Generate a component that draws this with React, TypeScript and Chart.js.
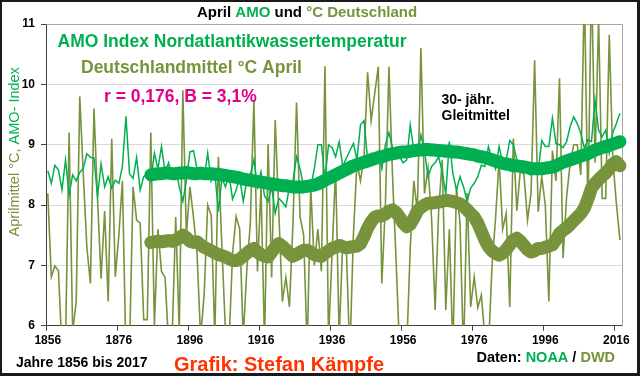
import { useEffect, useRef } from 'react';
import { Chart, registerables } from 'chart.js';

Chart.register(...registerables);

const FIRST_YEAR = 1856;
const years: string[] = Array.from({ length: 162 }, (_, i) => String(FIRST_YEAR + i));
const yTicks = [6, 7, 8, 9, 10, 11];
const xLabelStep = 20;
const maStartIndex = 29; // first 30-year mean at 1885

// AMO index (scaled to °C), April, 1856-2017
const amoRaw = [
  8.57, 8.36, 8.66, 8.58, 8.25, 8.75, 8.17, 8.5, 8.4, 8.54,
  8.61, 8.85, 8.79, 8.78, 8.14, 8.68, 8.3, 8.47, 8.28, 8.41,
  8.36, 8.64, 9.47, 8.52, 8.44, 8.79, 8.25, 8.47, 8.52, 8.4,
  8.86, 8.6, 8.97, 8.55, 8.7, 8.45, 8.6, 8.3, 8.06, 8.4,
  8.88, 8.9, 8.6, 8.5, 8.45, 8.86, 8.4, 8.55, 7.89, 8.45,
  8.3, 8.5, 8.1, 8.25, 8.45, 8.06, 8.4, 8.5, 8.75, 8.3,
  8.55, 8.15, 8.06, 8.3, 7.86, 8.11, 8.05, 7.97, 8.3, 8.4,
  8.8, 8.6, 8.3, 8.25, 8.3, 8.6, 9.0, 9.0, 8.42, 9.0,
  8.95, 8.8, 9.05, 8.64, 8.77, 8.9, 9.02, 8.75, 9.33, 9.4,
  8.75, 8.85, 8.7, 8.88, 8.6, 9.0, 9.2, 8.95, 8.88, 8.8,
  8.7, 8.75, 9.33, 8.9, 8.85, 9.16, 8.9, 8.47, 8.64, 8.7,
  8.8, 8.55, 8.19, 9.05, 8.52, 8.25, 8.47, 8.3, 8.06, 8.28,
  8.36, 8.47, 8.66, 8.64, 8.97, 8.75, 8.6, 8.97, 8.7, 8.75,
  9.07, 9.0, 8.75, 8.6, 8.7, 8.55, 8.5, 8.6, 8.55, 9.07,
  8.97, 8.97, 9.44, 9.02, 9.0, 8.95, 9.05, 9.3, 9.46, 9.35,
  9.19, 8.94, 9.08, 9.05, 9.74, 9.24, 9.13, 9.24, 8.86, 9.2,
  9.35, 9.52,
];

// Germany April mean temperature (°C), 1856-2017
const deRaw = [
  8.19, 6.81, 6.99, 6.91, 5.6, 5.7, 9.2, 5.9, 6.4, 9.8,
  8.5, 7.3, 6.7, 9.6, 8.1, 6.78, 7.9, 6.4, 9.1, 6.81,
  7.5, 8.4, 5.5, 5.6, 8.3, 7.75, 7.7, 6.1, 6.1, 9.2,
  6.0, 7.6, 6.9, 6.8, 5.7, 5.8, 7.8, 5.9, 9.9, 7.5,
  8.3, 7.8, 7.2, 5.8, 6.51, 8.0, 7.83, 5.8, 8.8, 7.3,
  5.9, 5.7, 7.2, 7.81, 7.6, 5.8, 6.92, 7.7, 9.74, 6.9,
  8.3, 5.7, 9.01, 6.8, 9.41, 7.9, 6.4, 6.8, 6.31, 7.7,
  9.7, 7.8, 7.5, 5.6, 8.3, 7.0, 7.6, 6.9, 10.3, 5.8,
  7.2, 8.6, 5.8, 7.4, 7.3, 5.5, 7.5, 8.7, 8.4, 8.8,
  10.2, 9.4, 9.85, 10.29, 6.7, 8.0, 10.29, 8.5, 7.1, 5.6,
  5.7, 5.6, 7.3, 8.4, 7.9, 10.6, 8.19, 8.61, 7.78, 6.26,
  7.92, 8.75, 6.26, 7.6, 5.6, 8.3, 7.7, 5.5, 8.2, 6.31,
  6.81, 6.3, 6.51, 5.8, 5.6, 6.98, 7.78, 8.75, 7.6, 7.86,
  6.31, 9.1, 7.9, 8.6, 8.5, 7.75, 8.2, 10.4, 7.89, 8.47,
  8.0, 6.4, 8.9, 8.4, 10.1, 7.12, 8.14, 8.69, 9.0, 9.0,
  8.5, 11.6, 7.9, 11.8, 8.7, 11.1, 8.11, 8.11, 10.82, 8.75,
  8.03, 7.42,
];

// 30-year moving averages, 1885-2017
const amoMA = [
  8.5, 8.51, 8.52, 8.52, 8.53, 8.53, 8.52, 8.52, 8.53, 8.53, 8.54, 8.53, 8.52, 8.52, 8.53, 8.52, 8.52, 8.52, 8.51, 8.51,
  8.5, 8.49, 8.48, 8.47, 8.46, 8.45, 8.43, 8.42, 8.41, 8.4, 8.39, 8.38, 8.37, 8.36, 8.35, 8.34, 8.33, 8.32, 8.32, 8.31,
  8.3, 8.3, 8.3, 8.3, 8.31, 8.32, 8.33, 8.35, 8.38, 8.41, 8.44, 8.47, 8.5, 8.53, 8.56, 8.59, 8.62, 8.65, 8.67, 8.69,
  8.71, 8.73, 8.75, 8.77, 8.79, 8.8, 8.82, 8.84, 8.85, 8.86, 8.87, 8.88, 8.88, 8.89, 8.9, 8.91, 8.91, 8.92, 8.92, 8.91,
  8.91, 8.9, 8.9, 8.89, 8.89, 8.88, 8.88, 8.87, 8.86, 8.85, 8.84, 8.83, 8.81, 8.8, 8.79, 8.77, 8.75, 8.73, 8.71, 8.69,
  8.68, 8.67, 8.65, 8.65, 8.64, 8.63, 8.62, 8.6, 8.6, 8.6, 8.6, 8.61, 8.62, 8.63, 8.65, 8.68, 8.71, 8.73, 8.75, 8.77,
  8.79, 8.81, 8.83, 8.85, 8.88, 8.91, 8.93, 8.95, 8.97, 8.99, 9.01, 9.03, 9.05,
];

const deMA = [
  7.38, 7.39, 7.4, 7.39, 7.4, 7.41, 7.4, 7.42, 7.45, 7.5, 7.46, 7.4, 7.38, 7.39, 7.34, 7.3, 7.27, 7.24, 7.21, 7.18,
  7.16, 7.14, 7.11, 7.08, 7.08, 7.1, 7.15, 7.2, 7.25, 7.28, 7.22, 7.18, 7.15, 7.14, 7.22, 7.3, 7.36, 7.32, 7.26, 7.2,
  7.15, 7.18, 7.22, 7.25, 7.25, 7.22, 7.18, 7.16, 7.15, 7.2, 7.24, 7.28, 7.3, 7.33, 7.31, 7.29, 7.3, 7.31, 7.32, 7.36,
  7.48, 7.62, 7.72, 7.8, 7.82, 7.82, 7.85, 7.9, 7.92, 7.88, 7.8, 7.7, 7.64, 7.68, 7.78, 7.9, 7.96, 8.0, 8.03, 8.03,
  8.04, 8.05, 8.06, 8.08, 8.07, 8.06, 8.04, 8.02, 7.98, 7.92, 7.86, 7.8, 7.7, 7.56, 7.42, 7.31, 7.24, 7.2, 7.17, 7.2,
  7.26, 7.34, 7.42, 7.45, 7.4, 7.33, 7.26, 7.22, 7.24, 7.28, 7.28, 7.3, 7.32, 7.34, 7.42, 7.53, 7.58, 7.62, 7.68, 7.74,
  7.8, 7.86, 7.95, 8.1, 8.28, 8.36, 8.42, 8.48, 8.53, 8.6, 8.68, 8.72, 8.65,
];

const GREEN = '#00B050';
const OLIVE = '#77933C';
const MAGENTA = '#E2008A';
const RED = '#FF3300';
const FONT = '"Liberation Sans", Arial, sans-serif';

const padMA = (arr: number[]) => [...Array(maStartIndex).fill(null), ...arr];

function drawParts(ctx: CanvasRenderingContext2D, parts: [string, string][], x: number, y: number) {
  let cx = x;
  for (const [t, c] of parts) {
    ctx.fillStyle = c;
    ctx.fillText(t, cx, y);
    cx += ctx.measureText(t).width;
  }
}

const decorPlugin = {
  id: 'decor',
  beforeDraw(chart: any) {
    const ctx = chart.ctx as CanvasRenderingContext2D;
    ctx.save();
    ctx.fillStyle = '#ffffff';
    ctx.fillRect(0, 0, chart.width, chart.height);
    ctx.restore();
  },
  beforeDatasetsDraw(chart: any) {
    const ctx = chart.ctx as CanvasRenderingContext2D;
    const a = chart.chartArea;
    ctx.save();
    ctx.strokeStyle = '#A6A6A6';
    ctx.lineWidth = 1;
    ctx.beginPath();
    ctx.moveTo(Math.round(a.left) + 0.5, Math.round(a.top) + 0.5);
    ctx.lineTo(Math.round(a.right) + 0.5, Math.round(a.top) + 0.5);
    ctx.lineTo(Math.round(a.right) + 0.5, Math.round(a.bottom) + 0.5);
    ctx.stroke();
    ctx.restore();
  },
  afterDraw(chart: any) {
    const ctx = chart.ctx as CanvasRenderingContext2D;
    ctx.save();
    ctx.textBaseline = 'alphabetic';
    ctx.textAlign = 'left';

    ctx.font = `bold 15px ${FONT}`;
    drawParts(ctx, [['April ', '#000'], ['AMO', GREEN], [' und ', '#000'], ['°C Deutschland', OLIVE]], 197, 16.5);

    ctx.font = `bold 17.5px ${FONT}`;
    ctx.fillStyle = GREEN;
    ctx.fillText('AMO Index Nordatlantikwassertemperatur', 57.5, 46.5);
    ctx.fillStyle = OLIVE;
    ctx.fillText('Deutschlandmittel °C April', 81, 72.5);
    ctx.fillStyle = MAGENTA;
    ctx.fillText('r = 0,176, B = 3,1%', 104, 102);

    ctx.font = `bold 14px ${FONT}`;
    ctx.fillStyle = '#000';
    ctx.fillText('30- jähr.', 441.5, 103.5);
    ctx.fillText('Gleitmittel', 441.5, 119.5);
    ctx.fillText('Jahre 1856 bis 2017', 16, 367);

    ctx.font = `bold 20px ${FONT}`;
    ctx.fillStyle = RED;
    ctx.fillText('Grafik: Stefan Kämpfe', 174, 370.5);

    ctx.font = `bold 14.5px ${FONT}`;
    drawParts(ctx, [['Daten: ', '#000'], ['NOAA', GREEN], [' / ', '#000'], ['DWD', OLIVE]], 476.5, 362);

    // rotated axis title
    ctx.save();
    ctx.translate(18.5, 236.5);
    ctx.rotate(-Math.PI / 2);
    ctx.font = `14.5px ${FONT}`;
    drawParts(ctx, [['Aprilmittel °C, ', OLIVE], ['AMO- Index', GREEN]], 0, 0);
    ctx.restore();

    // outer frame
    ctx.fillStyle = '#1a1a1a';
    ctx.fillRect(0, 0, chart.width, 2);
    ctx.fillRect(0, 0, 2, chart.height);
    ctx.fillRect(chart.width - 3, 0, 3, chart.height);
    ctx.fillRect(0, chart.height - 3, chart.width, 3);
    ctx.restore();
  },
};

export default function App() {
  const ref = useRef<HTMLCanvasElement | null>(null);

  useEffect(() => {
    document.body.style.margin = '0';
    const canvas = ref.current;
    if (!canvas) return;
    const tickFont = { family: FONT, size: 12, weight: 'bold' as const };
    const chart = new Chart(canvas, {
      type: 'line',
      data: {
        labels: years,
        datasets: [
          {
            label: 'AMO 30 J.',
            data: padMA(amoMA),
            borderColor: GREEN,
            backgroundColor: GREEN,
            borderWidth: 13,
            pointRadius: 0,
            borderCapStyle: 'round',
            borderJoinStyle: 'round',
            fill: false,
          },
          {
            label: 'DE 30 J.',
            data: padMA(deMA),
            borderColor: OLIVE,
            backgroundColor: OLIVE,
            borderWidth: 13,
            pointRadius: 0,
            borderCapStyle: 'round',
            borderJoinStyle: 'round',
            fill: false,
          },
          {
            label: 'AMO',
            data: amoRaw,
            borderColor: GREEN,
            backgroundColor: GREEN,
            borderWidth: 1.5,
            pointRadius: 0,
            fill: false,
          },
          {
            label: 'Deutschland',
            data: deRaw,
            borderColor: OLIVE,
            backgroundColor: OLIVE,
            borderWidth: 1.6,
            pointRadius: 0,
            fill: false,
          },
        ],
      },
      options: {
        animation: false,
        responsive: false,
        maintainAspectRatio: false,
        events: [],
        layout: { padding: { left: 0, right: 18.3, top: 24, bottom: 0 } },
        plugins: {
          legend: { display: false },
          tooltip: { enabled: false },
          title: { display: false },
        },
        scales: {
          x: {
            type: 'category',
            offset: true,
            grid: {
              display: true,
              drawOnChartArea: false,
              offset: true,
              tickLength: 5,
              color: (c: any) => (c.index % xLabelStep === 0 && c.index < years.length ? '#404040' : 'rgba(0,0,0,0)'),
              tickColor: (c: any) => (c.index % xLabelStep === 0 && c.index < years.length ? '#404040' : 'rgba(0,0,0,0)'),
            },
            border: { display: true, color: '#404040', width: 1 },
            ticks: {
              autoSkip: false,
              maxRotation: 0,
              minRotation: 0,
              padding: 3,
              color: '#000',
              font: tickFont,
              callback: (_v: any, i: number) => (i % xLabelStep === 0 ? years[i] : ''),
            },
            afterFit: (s: any) => {
              s.height = 50.3;
            },
          },
          y: {
            min: yTicks[0],
            max: yTicks[yTicks.length - 1],
            afterBuildTicks: (s: any) => {
              s.ticks = yTicks.map((v) => ({ value: v }));
            },
            grid: {
              tickLength: 5,
              tickColor: '#404040',
              color: (c: any) =>
                c.tick && c.tick.value === yTicks[0]
                  ? 'rgba(0,0,0,0)'
                  : c.tick && c.tick.value === yTicks[yTicks.length - 1]
                  ? '#A6A6A6'
                  : '#D9D9D9',
            },
            border: { display: true, color: '#404040', width: 1 },
            ticks: {
              padding: 6,
              color: '#000',
              font: tickFont,
            },
            afterFit: (s: any) => {
              s.width = 46;
            },
          },
        },
      },
      plugins: [decorPlugin],
    });
    return () => chart.destroy();
  }, []);

  return (
    <div style={{ position: 'fixed', left: 0, top: 0, width: 640, height: 376 }}>
      <canvas ref={ref} width={640} height={376} style={{ display: 'block', width: 640, height: 376 }} />
    </div>
  );
}
